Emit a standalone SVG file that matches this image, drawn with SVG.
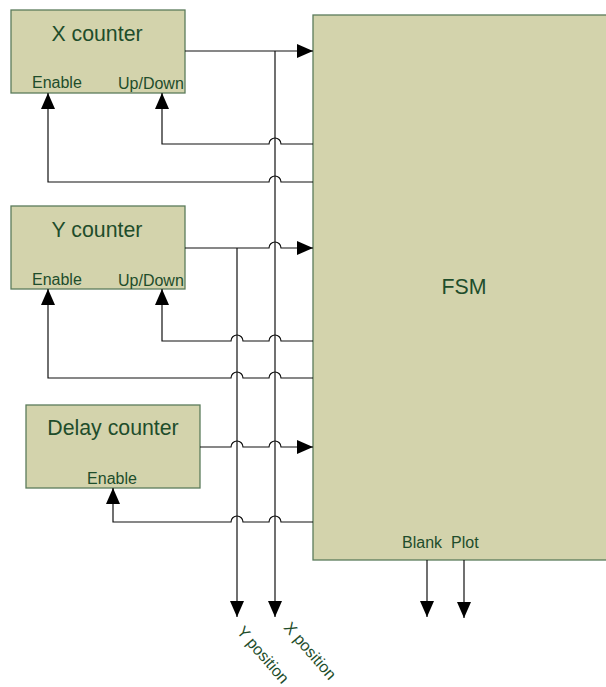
<svg xmlns="http://www.w3.org/2000/svg" width="606" height="687" viewBox="0 0 606 687">
<style>
.box{fill:#d3d3ac;stroke:#5b7b5b;stroke-width:1.3}
.t{font-family:"Liberation Sans",Arial,sans-serif;fill:#1e4d2b}
.big{font-size:21.3px}
.sm{font-size:16px}
.ln{fill:none;stroke:#111;stroke-width:1.2}
</style>
<defs>
<marker id="ah" markerUnits="userSpaceOnUse" markerWidth="16" markerHeight="14" refX="16" refY="7" orient="auto" viewBox="0 0 16 14">
<path d="M0,0 L16,7 L0,14 z" fill="#000"/>
</marker>
</defs>
<g id="fsm">
<rect class="box" x="313" y="15" width="296" height="545"/>
<text class="t big" x="464" y="294" text-anchor="middle">FSM</text>
<text class="t sm" x="402" y="548">Blank</text>
<text class="t sm" x="451" y="548">Plot</text>
</g>
<g id="xcounter">
<rect class="box" x="11" y="10" width="174" height="83"/>
<text class="t big" x="97" y="41" text-anchor="middle">X counter</text>
<text class="t sm" x="32" y="88">Enable</text>
<text class="t sm" x="118" y="89">Up/Down</text>
</g>
<g id="ycounter">
<rect class="box" x="11" y="206" width="174" height="83"/>
<text class="t big" x="97" y="237" text-anchor="middle">Y counter</text>
<text class="t sm" x="32" y="285">Enable</text>
<text class="t sm" x="118" y="286">Up/Down</text>
</g>
<g id="delaycounter">
<rect class="box" x="26" y="405" width="174" height="83"/>
<text class="t big" x="113" y="435" text-anchor="middle">Delay counter</text>
<text class="t sm" x="112" y="484" text-anchor="middle">Enable</text>
</g>
<g id="connectors">
<path class="ln" d="M185 51 H313" marker-end="url(#ah)"/>
<path class="ln" d="M275 51 V617" marker-end="url(#ah)"/>
<path class="ln" d="M237 248 V617" marker-end="url(#ah)"/>
<path class="ln" d="M313 144 H281 A6 6 0 0 0 269 144 H162 V93" marker-end="url(#ah)"/>
<path class="ln" d="M313 182 H281 A6 6 0 0 0 269 182 H48 V93" marker-end="url(#ah)"/>
<path class="ln" d="M185 248 H269 A6 6 0 0 1 281 248 H313" marker-end="url(#ah)"/>
<path class="ln" d="M313 341 H281 A6 6 0 0 0 269 341 H243 A6 6 0 0 0 231 341 H162 V289" marker-end="url(#ah)"/>
<path class="ln" d="M313 378 H281 A6 6 0 0 0 269 378 H243 A6 6 0 0 0 231 378 H48 V289" marker-end="url(#ah)"/>
<path class="ln" d="M200 447 H231 A6 6 0 0 1 243 447 H269 A6 6 0 0 1 281 447 H313" marker-end="url(#ah)"/>
<path class="ln" d="M313 522 H281 A6 6 0 0 0 269 522 H243 A6 6 0 0 0 231 522 H113 V488" marker-end="url(#ah)"/>
<path class="ln" d="M427 560 V617" marker-end="url(#ah)"/>
<path class="ln" d="M464 560 V618" marker-end="url(#ah)"/>
</g>
<g id="labels">
<text class="t sm" transform="translate(236 632) rotate(49)">Y position</text>
<text class="t sm" transform="translate(283 628) rotate(49)">X position</text>
</g>
</svg>
